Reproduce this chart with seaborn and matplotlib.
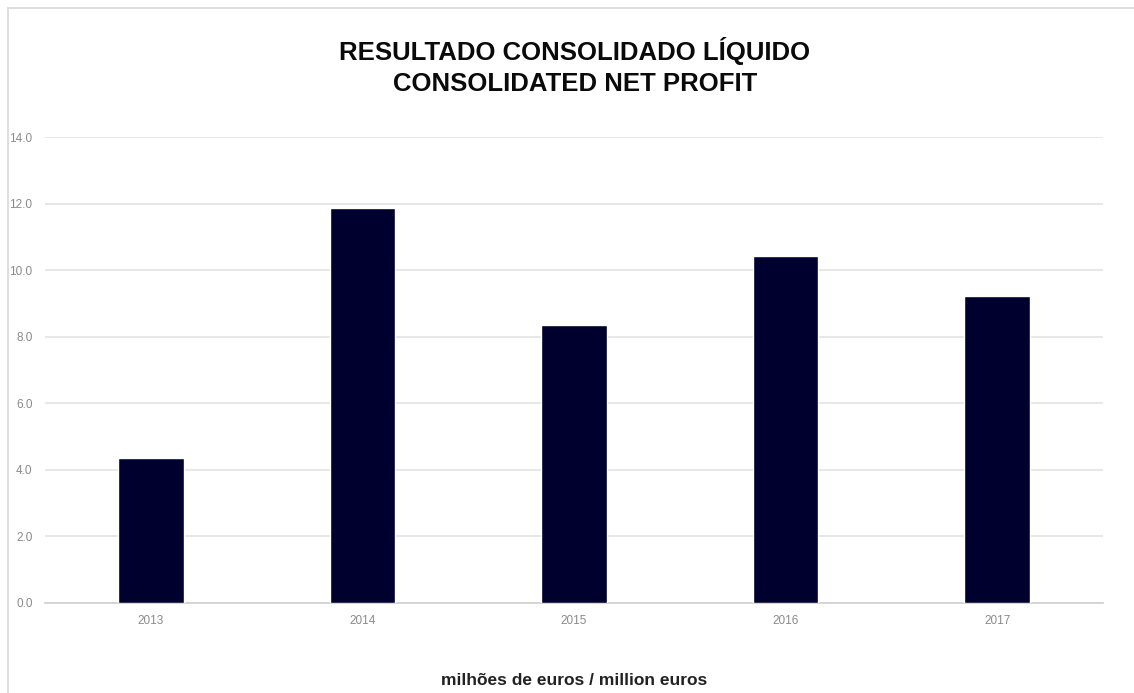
import matplotlib
matplotlib.use("Agg")
import matplotlib.pyplot as plt
import seaborn as sns
import pandas as pd
from matplotlib.patches import Rectangle

years = ["2013", "2014", "2015", "2016", "2017"]
profit = [4.35, 11.86, 8.35, 10.42, 9.22]
yticks = [0, 2, 4, 6, 8, 10, 12, 14]

df = pd.DataFrame({"year": years, "profit": profit})

sns.set_theme(style="white")
plt.rcParams['font.family'] = ['Liberation Sans Narrow', 'Liberation Sans', 'DejaVu Sans']

fig = plt.figure(figsize=(11.34, 6.93), dpi=100)
ax = fig.add_axes([0.0397, 0.1299, 0.9330, 0.6724])

sns.barplot(data=df, x="year", y="profit", color="#00002e", width=0.31,
            saturation=1, ax=ax, zorder=3)

ax.set_xlim(-0.5, 4.5)
ax.set_ylim(0, 14)
ax.set_yticks(yticks)
ax.set_yticklabels([f"{v:.1f}" for v in yticks])
ax.grid(axis="y", color="#e3e3e3", linewidth=1.2, zorder=0)
ax.tick_params(axis="both", length=0, labelsize=8.5, labelcolor="#8a8a8a")
ax.tick_params(axis="x", pad=9)
ax.tick_params(axis="y", pad=9)
for side in ["top", "right", "left"]:
    ax.spines[side].set_visible(False)
ax.spines["bottom"].set_color("#d0d0d0")
ax.set_ylabel("")
ax.set_xlabel("milhões de euros / million euros", fontsize=12.5, fontweight="bold",
              color="#222222", labelpad=33, family=['Liberation Sans', 'DejaVu Sans'])

fig.text(0.507, 0.904, "RESULTADO CONSOLIDADO LÍQUIDO\nCONSOLIDATED NET PROFIT",
         ha="center", va="center", fontsize=18.5, fontweight="bold", color="#0a0a0a",
         linespacing=1.35)

fig.patches.append(Rectangle((0.007, -0.01), 1.0, 0.999, transform=fig.transFigure,
                             fill=False, edgecolor="#d8d8d8", linewidth=1.2))

fig.savefig("out.png", dpi=100)
